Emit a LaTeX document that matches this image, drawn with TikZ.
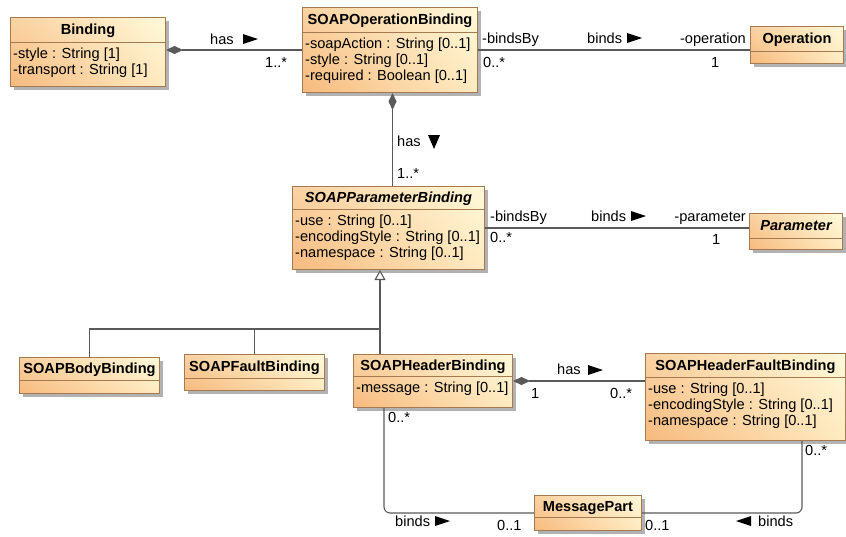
\documentclass[tikz,border=0pt]{standalone}
\usepackage{fontspec}
\setmainfont{Liberation Sans}
\usetikzlibrary{calc,arrows.meta,shadings}

\definecolor{clsborder}{RGB}{165,122,80}
\definecolor{shadowgray}{RGB}{178,178,178}
\definecolor{wire}{RGB}{90,90,90}
\definecolor{fillA}{RGB}{246,186,126}
\definecolor{fillB}{RGB}{250,210,162}
\definecolor{fillC}{RGB}{255,249,218}
\definecolor{fillD}{RGB}{255,234,192}

\tikzset{
  cls/.style={draw=clsborder, line width=1pt, inner sep=0pt, anchor=north west,
    lower left=fillA, upper left=fillB, upper right=fillC, lower right=fillD},
  clssep/.style={draw=clsborder, line width=1pt},
  clstitle/.style={font=\fontsize{14.6}{16}\selectfont\bfseries, inner sep=0pt, anchor=base},
  clsattr/.style={font=\fontsize{14.6}{16}\selectfont, inner sep=0pt, anchor=base west},
  lbl/.style={font=\fontsize{14.6}{16}\selectfont, inner sep=0pt, anchor=base west},
  wire/.style={draw=wire, line width=1.1pt},
  compose/.style={wire, {Diamond[length=17pt,width=8pt,fill=wire]}-},
  generalize/.style={wire, -{Triangle[open,length=10pt,width=11pt,fill=white]}},
  dirR/.pic={\fill (-7,-5) -- (8,0) -- (-7,5) -- cycle;},
  dirL/.pic={\fill (7,-5) -- (-8,0) -- (7,5) -- cycle;},
  dirD/.pic={\fill (-6,-7) -- (6,-7) -- (0,7) -- cycle;},
}

% #1 name, #2 x, #3 y, #4 width, #5 height, #6 title height, #7 title, #8 attributes
\newcommand\umlclass[8]{%
  \fill[shadowgray] ({#2+4},{#3+4}) rectangle ({#2+#4+4},{#3+#5+4});
  \node[cls, minimum width=#4pt, minimum height=#5pt] (#1) at (#2,#3) {};
  \draw[clssep] ($(#1.north west)+(0,#6)$) -- ($(#1.north east)+(0,#6)$);
  \node[clstitle] (#1-title) at ($(#1.north)+(0,{#6/2+5})$) {#7};
  \if\relax\detokenize{#8}\relax\else
    \foreach \attr [count=\k] in {#8} {
      \node[clsattr] (#1-attr\k) at ($(#1.north west)+(3,{#6+16+(\k-1)*16.3})$) {\attr};
    }
  \fi
}

\begin{document}
\begin{tikzpicture}[x=1pt, y=-1pt]
\useasboundingbox (0,0) rectangle (846,536);

% classes
\umlclass{binding}{10}{17}{155}{69}{25}{Binding}{-style : String [1],-transport : String [1]}
\umlclass{soapop}{302}{7}{175}{85}{25}{SOAPOperationBinding}{-soapAction : String [0..1],-style : String [0..1],-required : Boolean [0..1]}
\umlclass{operation}{750}{26}{93}{37}{25}{Operation}{}
\umlclass{param}{292}{186}{192}{83}{23}{\itshape SOAPParameterBinding}{-use : String [0..1],-encodingStyle : String [0..1],-namespace : String [0..1]}
\umlclass{parameter}{749}{213}{93}{36}{25}{\itshape Parameter}{}
\umlclass{body}{19}{357}{140}{36}{23}{SOAPBodyBinding}{}
\umlclass{fault}{184}{354}{140}{36}{24}{SOAPFaultBinding}{}
\umlclass{header}{353}{354}{159}{53}{22}{SOAPHeaderBinding}{-message : String [0..1]}
\umlclass{hfault}{645}{353}{200}{87}{24}{SOAPHeaderFaultBinding}{-use : String [0..1],-encodingStyle : String [0..1],-namespace : String [0..1]}
\umlclass{mpart}{534}{495}{107}{35}{22}{MessagePart}{}

% associations
\draw[compose] (binding.east |- soapop.west) -- (soapop.west);
\draw[wire] (soapop.east) -- (soapop.east -| operation.west);
\draw[compose] ([xshift=2.5pt]soapop.south) -- ([xshift=2.5pt]soapop.south |- param.north);
\draw[wire] (param.east) -- (param.east -| parameter.west);
\draw[compose] (header.east) -- (header.east -| hfault.west);
\draw[wire, rounded corners=6pt] ([xshift=31pt]header.south west) |- (mpart.west);
\draw[wire, rounded corners=6pt] ([xshift=157pt]hfault.south west) |- (mpart.east);

% generalization tree
\coordinate (gj) at (380,329);
\draw[generalize] (header.north -| gj) -- (gj) -- (param.south -| gj);
\draw[wire] (body.north) |- (gj);
\draw[wire] (fault.north) -- (fault.north |- gj);

% association labels
\node[lbl] (hasA) at (210,44) {has};
\pic at (250,39) {dirR};
\node[lbl] (multA) at (265,67) {1..*};
\node[lbl] (roleA) at (482,43) {-bindsBy};
\node[lbl] (multB) at (483,67) {0..*};
\node[lbl] (bindsA) at (587,43) {binds};
\pic at (634,38) {dirR};
\node[lbl, anchor=base east] (roleB) at (746,43) {-operation};
\node[lbl] (multC) at (711,67) {1};

\node[lbl] (hasB) at (397,146) {has};
\pic at (434,142) {dirD};
\node[lbl] (multD) at (397,178) {1..*};

\node[lbl] (roleC) at (490,221) {-bindsBy};
\node[lbl] (multE) at (490,242) {0..*};
\node[lbl] (bindsB) at (591,221) {binds};
\pic at (638,216) {dirR};
\node[lbl, anchor=base east] (roleD) at (746,221) {-parameter};
\node[lbl] (multF) at (712,244) {1};

\node[lbl] (hasC) at (557,374) {has};
\pic at (595,370) {dirR};
\node[lbl] (multG) at (531,398) {1};
\node[lbl] (multH) at (610,398) {0..*};

\node[lbl] (multI) at (388,422) {0..*};
\node[lbl] (multJ) at (805,455) {0..*};
\node[lbl] (bindsC) at (395,526) {binds};
\pic at (442,521) {dirR};
\node[lbl] (multK) at (497,530) {0..1};
\node[lbl] (multL) at (645,530) {0..1};
\pic at (744,521) {dirL};
\node[lbl] (bindsD) at (758,526) {binds};
\end{tikzpicture}
\end{document}
